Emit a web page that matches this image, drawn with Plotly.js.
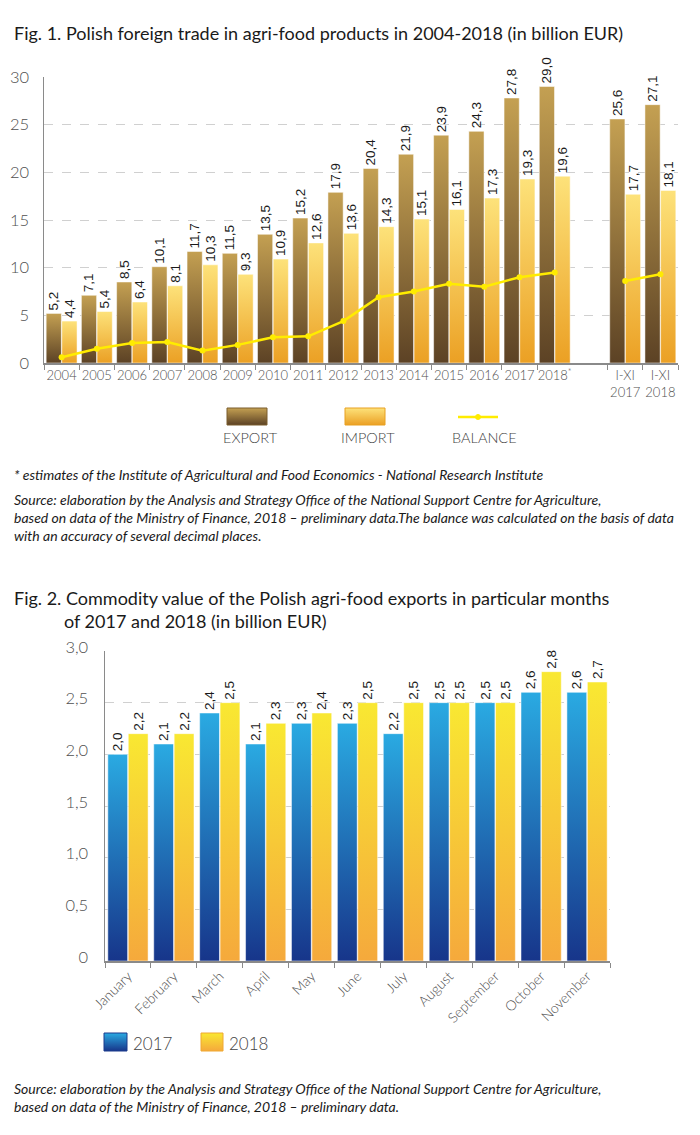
<!DOCTYPE html>
<html>
<head>
<meta charset="utf-8">
<script src="https://cdn.plot.ly/plotly-3.0.1.min.js"></script>
<style>
html,body{margin:0;padding:0;background:#fff;}
#chart{width:700px;height:1135px;}
</style>
</head>
<body>
<div id="chart"></div>
<script>
// ---------- DATA: Fig. 1 ----------
var years = ['2004','2005','2006','2007','2008','2009','2010','2011','2012','2013','2014','2015','2016','2017','2018<sup>*</sup>',' ','I-XI<br>2017','I-XI<br>2018'];
var yearTicks = ['2004','2005','2006','2007','2008','2009','2010','2011','2012','2013','2014','2015','2016','2017','2018<sup>*</sup>','I-XI<br>2017','I-XI<br>2018'];
var exportVals = [5.2,7.1,8.5,10.1,11.7,11.5,13.5,15.2,17.9,20.4,21.9,23.9,24.3,27.8,29.0,null,25.6,27.1];
var importVals = [4.4,5.4,6.4,8.1,10.3,9.3,10.9,12.6,13.6,14.3,15.1,16.1,17.3,19.3,19.6,null,17.7,18.1];
var balanceVals = [0.6,1.5,2.1,2.2,1.3,1.9,2.7,2.8,4.4,6.9,7.5,8.3,8.0,9.0,9.5,null,8.6,9.3];
var fig1TickVals = [0,5,10,15,20,25,30];
var fig1TickText = ['0','5','10','15','20','25','30'];

// ---------- DATA: Fig. 2 ----------
var months = ['January','February','March','April','May','June','July','August','September','October','November'];
var exp2017 = [2.0,2.1,2.4,2.1,2.3,2.3,2.2,2.5,2.5,2.6,2.6];
var exp2018 = [2.2,2.2,2.5,2.3,2.4,2.5,2.5,2.5,2.5,2.8,2.7];
var fig2TickVals = [0,0.5,1.0,1.5,2.0,2.5,3.0];
var fig2TickText = ['0','0,5','1,0','1,5','2,0','2,5','3,0'];

// ---------- TEXTS ----------
var title1 = 'Fig. 1. Polish foreign trade in agri-food products in 2004-2018 (in billion EUR)';
var note1 = '* estimates of the Institute of Agricultural and Food Economics - National Research Institute';
var source1 = 'Source: elaboration by the Analysis and Strategy Office of the National Support Centre for Agriculture,<br>based on data of the Ministry of Finance, 2018 \u2013 preliminary data.The balance was calculated on the basis of data<br>with an accuracy of several decimal places.';
var title2a = 'Fig. 2. Commodity value of the Polish agri-food exports in particular months';
var title2b = 'of 2017 and 2018 (in billion EUR)';
var source2 = 'Source: elaboration by the Analysis and Strategy Office of the National Support Centre for Agriculture,<br>based on data of the Ministry of Finance, 2018 \u2013 preliminary data.';

var W = 700, H = 1135;
function px(x){ return x / W; }
function py(y){ return 1 - y / H; }
// keep only the categories that carry a value (the blank spacer category has none)
function xsOf(vals){ return years.filter(function(_, i){ return vals[i] !== null; }); }
function ysOf(vals){ return vals.filter(function(v){ return v !== null; }); }

var valFont = {family:'Liberation Sans, Arial, sans-serif', size:13.5, color:'#1a1a1a'};

var data = [
  {type:'bar', name:'EXPORT', x:xsOf(exportVals), y:ysOf(exportVals), xaxis:'x', yaxis:'y', offsetgroup:'exp',
   marker:{color:'#9a7a3e', line:{color:'#ffffff', width:0.5}},
   texttemplate:'%{y:.1f}', textposition:'outside', textangle:-90, textfont:valFont,
   cliponaxis:false, constraintext:'none', showlegend:false},
  {type:'bar', name:'IMPORT', x:xsOf(importVals), y:ysOf(importVals), xaxis:'x', yaxis:'y', offsetgroup:'imp',
   marker:{color:'#f6c850', line:{color:'#ffffff', width:0.5}},
   texttemplate:'%{y:.1f}', textposition:'outside', textangle:-90, textfont:valFont,
   cliponaxis:false, constraintext:'none', showlegend:false},
  {type:'scatter', mode:'lines+markers', name:'BALANCE', x:years, y:balanceVals, xaxis:'x', yaxis:'y',
   line:{color:'#ffec00', width:2.5}, marker:{color:'#ffec00', size:6},
   connectgaps:false, cliponaxis:false, showlegend:false},
  {type:'bar', name:'2017', x:months, y:exp2017, xaxis:'x2', yaxis:'y2',
   marker:{color:'#2170b8', line:{color:'#ffffff', width:0.5}},
   texttemplate:'%{y:.1f}', textposition:'outside', textangle:-90, textfont:valFont,
   cliponaxis:false, constraintext:'none', showlegend:false},
  {type:'bar', name:'2018', x:months, y:exp2018, xaxis:'x2', yaxis:'y2',
   marker:{color:'#f7c83a', line:{color:'#ffffff', width:0.5}},
   texttemplate:'%{y:.1f}', textposition:'outside', textangle:-90, textfont:valFont,
   cliponaxis:false, constraintext:'none', showlegend:false}
];

var tickFontY = {family:'Lato, sans-serif', size:16.5, color:'#505050', weight:300};
var tickFontX = {family:'Lato, sans-serif', size:13, color:'#505050', weight:300};
var noteFont = {family:'Lato, sans-serif', size:14, color:'#1a1a1a', style:'italic'};

var layout = {
  width:W, height:H,
  margin:{l:0, r:0, t:0, b:0},
  paper_bgcolor:'#ffffff', plot_bgcolor:'#ffffff',
  separators:', ',
  barmode:'group',
  bargap:0.11, bargroupgap:0.03,
  font:{family:'Lato, sans-serif', color:'#222'},
  xaxis:{domain:[px(44), px(678)], anchor:'y', type:'category', categoryorder:'array', categoryarray:years,
    range:[-0.5, years.length - 0.5],
    tickvals:yearTicks, ticktext:yearTicks,
    showline:true, linecolor:'#8a8a8a', linewidth:1.5,
    ticks:'outside', tickson:'boundaries', ticklen:5, tickcolor:'#8a8a8a', tickwidth:1,
    tickangle:0, tickfont:tickFontX, showgrid:false, fixedrange:true},
  yaxis:{domain:[py(363), py(77)], anchor:'x', range:[0,30],
    tickvals:fig1TickVals, ticktext:fig1TickText, tickfont:tickFontY,
    showline:true, linecolor:'#8a8a8a', linewidth:1.5, ticks:'', ticklabelstandoff:10,
    showgrid:true, gridcolor:'#d0d0d0', griddash:'dash', gridwidth:1, zeroline:false, fixedrange:true},
  xaxis2:{domain:[px(105), px(610)], anchor:'y2', type:'category',
    showline:true, linecolor:'#8a8a8a', linewidth:1.5,
    ticks:'outside', tickson:'boundaries', ticklen:5, tickcolor:'#8a8a8a', tickwidth:1,
    tickangle:-45, tickfont:{family:'Lato, sans-serif', size:14, color:'#505050', weight:300},
    showgrid:false, fixedrange:true},
  yaxis2:{domain:[py(961), py(651)], anchor:'x2', range:[0,3],
    tickvals:fig2TickVals, ticktext:fig2TickText, tickfont:tickFontY,
    showline:true, linecolor:'#8a8a8a', linewidth:1.5, ticks:'', ticklabelstandoff:12, ticklabelshift:-4,
    showgrid:true, gridcolor:'#d0d0d0', griddash:'dash', gridwidth:1, zeroline:false, fixedrange:true},
  shapes:[
    // Fig.1 legend
    {type:'rect', xref:'paper', yref:'paper', x0:px(227), x1:px(267), y0:py(425), y1:py(408), fillcolor:'#9a7a3e', line:{color:'#7a5c2c', width:1}, layer:'above'},
    {type:'rect', xref:'paper', yref:'paper', x0:px(345), x1:px(385), y0:py(425), y1:py(408), fillcolor:'#f6c850', line:{color:'#e8a020', width:1}, layer:'above'},
    {type:'line', xref:'paper', yref:'paper', x0:px(458), x1:px(498), y0:py(417), y1:py(417), line:{color:'#ffec00', width:2.5}, layer:'above'},
    {type:'circle', xref:'paper', yref:'paper', x0:px(475.5), x1:px(480.5), y0:py(419.5), y1:py(414.5), fillcolor:'#ffec00', line:{color:'#ffec00', width:1}, layer:'above'},
    // Fig.2 legend
    {type:'rect', xref:'paper', yref:'paper', x0:px(104), x1:px(127), y0:py(1051), y1:py(1033), fillcolor:'#2170b8', line:{color:'#1a3a8c', width:1}, layer:'above'},
    {type:'rect', xref:'paper', yref:'paper', x0:px(201), x1:px(223), y0:py(1051), y1:py(1033), fillcolor:'#f7c83a', line:{color:'#f0a830', width:1}, layer:'above'}
  ],
  annotations:[
    {text:title1, xref:'paper', yref:'paper', x:px(12), y:py(33), xanchor:'left', yanchor:'middle', showarrow:false,
     font:{family:'Lato, sans-serif', size:18, color:'#1a1a1a'}},
    {text:'EXPORT', xref:'paper', yref:'paper', x:px(250), y:py(438), xanchor:'center', yanchor:'middle', showarrow:false,
     font:{family:'Lato, sans-serif', size:14.5, color:'#444', weight:300}},
    {text:'IMPORT', xref:'paper', yref:'paper', x:px(368), y:py(438), xanchor:'center', yanchor:'middle', showarrow:false,
     font:{family:'Lato, sans-serif', size:14.5, color:'#444', weight:300}},
    {text:'BALANCE', xref:'paper', yref:'paper', x:px(484), y:py(437), xanchor:'center', yanchor:'middle', showarrow:false,
     font:{family:'Lato, sans-serif', size:14.5, color:'#444', weight:300}},
    {text:note1, xref:'paper', yref:'paper', x:px(12), y:py(475), xanchor:'left', yanchor:'middle', showarrow:false,
     font:noteFont},
    {text:source1, xref:'paper', yref:'paper', x:px(12), y:py(489), xanchor:'left', yanchor:'top', align:'left', showarrow:false,
     font:noteFont},
    {text:title2a, xref:'paper', yref:'paper', x:px(12), y:py(598), xanchor:'left', yanchor:'middle', showarrow:false,
     font:{family:'Lato, sans-serif', size:18, color:'#1a1a1a'}},
    {text:title2b, xref:'paper', yref:'paper', x:px(62), y:py(621), xanchor:'left', yanchor:'middle', showarrow:false,
     font:{family:'Lato, sans-serif', size:18, color:'#1a1a1a'}},
    {text:'2017', xref:'paper', yref:'paper', x:px(131), y:py(1043), xanchor:'left', yanchor:'middle', showarrow:false,
     font:{family:'Lato, sans-serif', size:17, color:'#444', weight:300}},
    {text:'2018', xref:'paper', yref:'paper', x:px(227), y:py(1043), xanchor:'left', yanchor:'middle', showarrow:false,
     font:{family:'Lato, sans-serif', size:17, color:'#444', weight:300}},
    {text:source2, xref:'paper', yref:'paper', x:px(12), y:py(1078), xanchor:'left', yanchor:'top', align:'left', showarrow:false,
     font:noteFont}
  ]
};

var gradients = {
  EXPORT:['gExp','#c4a052','#5c4225'],
  IMPORT:['gImp','#fde27a','#eba024'],
  '2017':['g17','#2aaae2','#17358a'],
  '2018':['g18','#f9e832','#f5a93c']
};
var shapeGrad = {0:'gExp', 1:'gImp', 4:'g17', 5:'g18'};

var gd = document.getElementById('chart');
Plotly.newPlot(gd, data, layout, {displayModeBar:false, staticPlot:true}).then(function(){
  var NS = 'http://www.w3.org/2000/svg';
  var svg = gd.querySelector('svg.main-svg');
  var defs = svg.querySelector('defs');
  if(!defs){ defs = document.createElementNS(NS,'defs'); svg.insertBefore(defs, svg.firstChild); }
  Object.keys(gradients).forEach(function(k){
    var g = gradients[k];
    var lg = document.createElementNS(NS,'linearGradient');
    lg.setAttribute('id', g[0]);
    lg.setAttribute('x1','0'); lg.setAttribute('y1','0'); lg.setAttribute('x2','0'); lg.setAttribute('y2','1');
    [['0',g[1]],['1',g[2]]].forEach(function(s){
      var st = document.createElementNS(NS,'stop');
      st.setAttribute('offset', s[0]); st.setAttribute('stop-color', s[1]);
      lg.appendChild(st);
    });
    defs.appendChild(lg);
  });
  gd.querySelectorAll('g.trace.bars').forEach(function(tr){
    var d = tr.__data__;
    var name = d && d[0] && d[0].trace ? d[0].trace.name : null;
    if(name && gradients[name]){
      tr.querySelectorAll('.point path').forEach(function(p){ p.style.fill = 'url(#' + gradients[name][0] + ')'; });
    }
  });
  gd.querySelectorAll('.shapelayer path[data-index]').forEach(function(p){
    var i = +p.getAttribute('data-index');
    if(shapeGrad[i]) p.style.fill = 'url(#' + shapeGrad[i] + ')';
  });
});
</script>
</body>
</html>
